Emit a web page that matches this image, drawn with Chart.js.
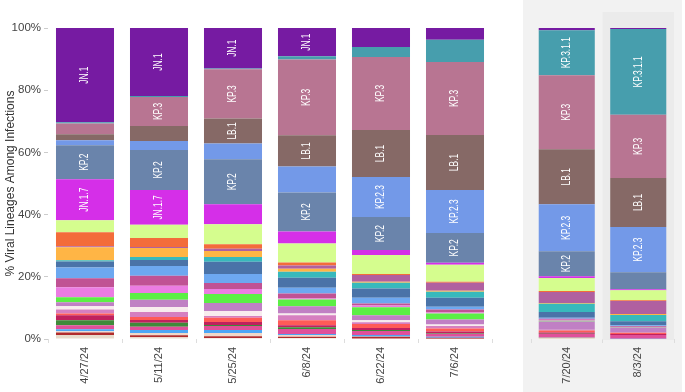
<!DOCTYPE html>
<html>
<head>
<meta charset="utf-8">
<script src="https://cdn.jsdelivr.net/npm/chart.js@4"></script>
<style>
  html, body { margin: 0; padding: 0; background: #fff; }
  #wrap { position: relative; width: 685px; height: 392px; overflow: hidden; }
  #main { position: absolute; left: 0; top: 0; }
  #nowcast { position: absolute; left: 523px; top: 0; background: #f2f2f2; }
</style>
</head>
<body>
<div id="wrap">
  <canvas id="main" width="500" height="392"></canvas>
  <canvas id="nowcast" width="159" height="392"></canvas>
</div>
<script>
// two-week periods, the last two are the nowcast
const dates = ['4/27/24', '5/11/24', '5/25/24', '6/8/24', '6/22/24', '7/6/24', '7/20/24', '8/3/24'];
const nowcastFrom = 6;

// lineages from bottom of the stack to the top
const lineages = [
  'JN.1.32', 'JN.1.8.1', 'BA.2.86.1', 'JN.1.13.1', 'KP.1.1.3', 'XDP', 'JN.1.4.3',
  'KW.1.1', 'JN.1.16.1', 'LF.1', 'KP.3.3', 'JN.1.11.1', 'KP.4.1', 'KP.1.2',
  'JN.1.16', 'KP.1.1', 'KS.1', 'JN.1.13', 'KP.2.15', 'JN.1.18.2', 'JN.1.18',
  'JN.1.7', 'KP.2', 'KP.2.3', 'LB.1', 'KP.3', 'KP.3.1.1', 'JN.1'
];
const colors = [
  '#e8dccb', '#b02c2c', '#f0d8c8', '#4da6f5', '#e0509a', '#3f8a3a', '#c0215e',
  '#ff5b57', '#d67fc0', '#f8ecee', '#c080c4', '#5bef45', '#eb7ce2', '#c05294',
  '#6da8f0', '#4a73a8', '#38b9bc', '#ffb545', '#b060a0', '#f36c3a', '#d5fd8e',
  '#d52fe8', '#6a84ab', '#7399e8', '#866966', '#b87592', '#479ead', '#761ba2'
];
// % of infections, one row per lineage, one column per date
const shares = [
  [1.3, 0.6, 0.3, 0.3, 0.2, 0.1, 0.3, 0.0],
  [0.8, 0.6, 0.6, 0.4, 0.5, 0.3, 0.1, 0.0],
  [0.4, 0.7, 1.0, 0.6, 0.1, 0.0, 0.1, 0.0],
  [0.6, 1.0, 1.0, 0.3, 0.5, 0.3, 0.1, 0.1],
  [1.3, 1.0, 1.3, 1.6, 1.3, 1.0, 1.0, 1.2],
  [1.6, 1.3, 0.3, 0.6, 0.3, 0.2, 0.1, 0.0],
  [1.6, 0.9, 1.0, 0.6, 0.6, 0.5, 0.4, 0.3],
  [0.6, 1.0, 1.3, 1.6, 1.3, 1.0, 0.6, 0.4],
  [1.3, 1.6, 0.6, 1.6, 0.6, 0.8, 0.3, 0.1],
  [1.0, 1.6, 1.6, 0.6, 0.6, 0.5, 0.0, 0.0],
  [1.3, 2.3, 2.6, 2.3, 1.6, 1.6, 2.6, 1.5],
  [1.6, 2.2, 2.9, 2.2, 2.6, 1.9, 0.3, 0.1],
  [3.2, 2.3, 1.6, 0.3, 0.6, 0.3, 0.3, 0.1],
  [2.9, 3.2, 1.9, 1.6, 0.6, 1.0, 0.3, 0.3],
  [3.5, 3.2, 2.9, 1.9, 1.9, 0.9, 0.3, 0.3],
  [1.9, 1.9, 3.9, 3.2, 2.9, 2.9, 1.9, 1.3],
  [0.4, 1.0, 1.6, 1.9, 1.9, 1.9, 2.6, 2.0],
  [4.2, 2.9, 1.9, 1.0, 0.3, 0.3, 0.3, 0.3],
  [0.3, 0.3, 0.7, 1.0, 2.2, 2.6, 3.5, 4.2],
  [4.5, 2.9, 1.5, 1.0, 0.3, 0.3, 0.3, 0.3],
  [3.9, 4.2, 6.4, 6.1, 6.1, 5.5, 4.2, 3.2],
  [13.2, 11.2, 6.4, 3.9, 1.6, 0.6, 0.6, 0.3],
  [10.9, 12.9, 14.5, 12.5, 10.6, 9.6, 8.0, 5.5],
  [1.6, 2.9, 5.1, 8.4, 12.9, 13.8, 15.1, 14.5],
  [1.9, 4.8, 8.0, 10.0, 15.1, 17.7, 17.7, 15.8],
  [3.5, 9.3, 15.8, 24.4, 23.5, 23.5, 23.8, 20.3],
  [0.4, 0.3, 0.3, 1.0, 3.2, 7.1, 14.5, 27.6],
  [30.3, 21.9, 13.0, 9.1, 6.1, 3.8, 0.7, 0.3]
];
const yTicks = [0, 20, 40, 60, 80, 100];
// only these get a name written inside the bar (when it fits)
const labeled = ['JN.1', 'KP.3.1.1', 'KP.3', 'LB.1', 'KP.2.3', 'KP.2', 'JN.1.7'];

const FONT = '"Liberation Sans", Arial, sans-serif';

/***** names written inside the segments *****/
const barLabels = {
  id: 'barLabels',
  afterDatasetsDraw(chart) {
    const ctx = chart.ctx;
    ctx.save();
    ctx.font = '12px ' + FONT;
    ctx.fillStyle = '#ffffff';
    ctx.textAlign = 'center';
    ctx.textBaseline = 'middle';
    chart.data.datasets.forEach((ds, i) => {
      if (!labeled.includes(ds.label)) return;
      chart.getDatasetMeta(i).data.forEach(bar => {
        const h = bar.base - bar.y;
        const w = ctx.measureText(ds.label).width * 0.7;
        if (w + 3 > h) return;
        ctx.save();
        ctx.translate(bar.x, (bar.y + bar.base) / 2);
        ctx.rotate(-Math.PI / 2);
        ctx.scale(0.7, 1);
        ctx.fillText(ds.label, 0, 0);
        ctx.restore();
      });
    });
    ctx.restore();
  }
};

/***** darker band behind the latest week *****/
const lastBand = {
  id: 'lastBand',
  beforeDatasetsDraw(chart) {
    const x = chart.scales.x;
    const n = chart.data.labels.length;
    const step = x.width / n;
    const cx = x.getPixelForValue(n - 1);
    const ctx = chart.ctx;
    ctx.save();
    ctx.fillStyle = '#ebebeb';
    ctx.fillRect(cx - step / 2, 12, step, 328);
    ctx.restore();
  }
};

function makeDatasets(from, to) {
  return lineages.map((name, k) => ({
    label: name,
    data: shares[k].slice(from, to),
    backgroundColor: colors[k],
    borderWidth: 0,
    barPercentage: 0.784,
    categoryPercentage: 1
  }));
}

function xScale() {
  return {
    stacked: true,
    grid: { offset: true, drawOnChartArea: false, tickLength: 4, color: '#dddddd' },
    border: { display: false },
    ticks: {
      maxRotation: 90, minRotation: 90, padding: 4, color: '#444',
      font: { family: FONT, size: 11 }
    },
    afterFit(s) { s.height = 53; }
  };
}

/***** observed weeks *****/
new Chart(document.getElementById('main'), {
  type: 'bar',
  data: { labels: dates.slice(0, nowcastFrom), datasets: makeDatasets(0, nowcastFrom) },
  options: {
    responsive: false,
    animation: false,
    layout: { padding: { top: 28, right: 8, left: 0, bottom: 0 } },
    plugins: { legend: { display: false }, tooltip: { enabled: false } },
    scales: {
      x: xScale(),
      y: {
        stacked: true, min: 0, max: 100,
        afterBuildTicks(s) { s.ticks = yTicks.map(v => ({ value: v })); },
        ticks: { callback: v => v + '%', padding: 3, color: '#444', font: { family: FONT, size: 11.5 } },
        grid: { drawOnChartArea: false, tickLength: 4, color: '#cccccc' },
        border: { display: false },
        title: {
          display: true, text: '% Viral Lineages Among Infections', color: '#333',
          font: { family: FONT, size: 12 }, padding: { top: 3, bottom: 0 }
        },
        afterFit(s) { s.width = 48; }
      }
    }
  },
  plugins: [barLabels]
});

/***** nowcast panel *****/
new Chart(document.getElementById('nowcast'), {
  type: 'bar',
  data: { labels: dates.slice(nowcastFrom), datasets: makeDatasets(nowcastFrom, dates.length) },
  options: {
    responsive: false,
    animation: false,
    layout: { padding: { top: 28, right: 8, left: 8, bottom: 0 } },
    plugins: { legend: { display: false }, tooltip: { enabled: false } },
    scales: {
      x: xScale(),
      y: { stacked: true, min: 0, max: 100, display: false }
    }
  },
  plugins: [lastBand, barLabels]
});
</script>
</body>
</html>
